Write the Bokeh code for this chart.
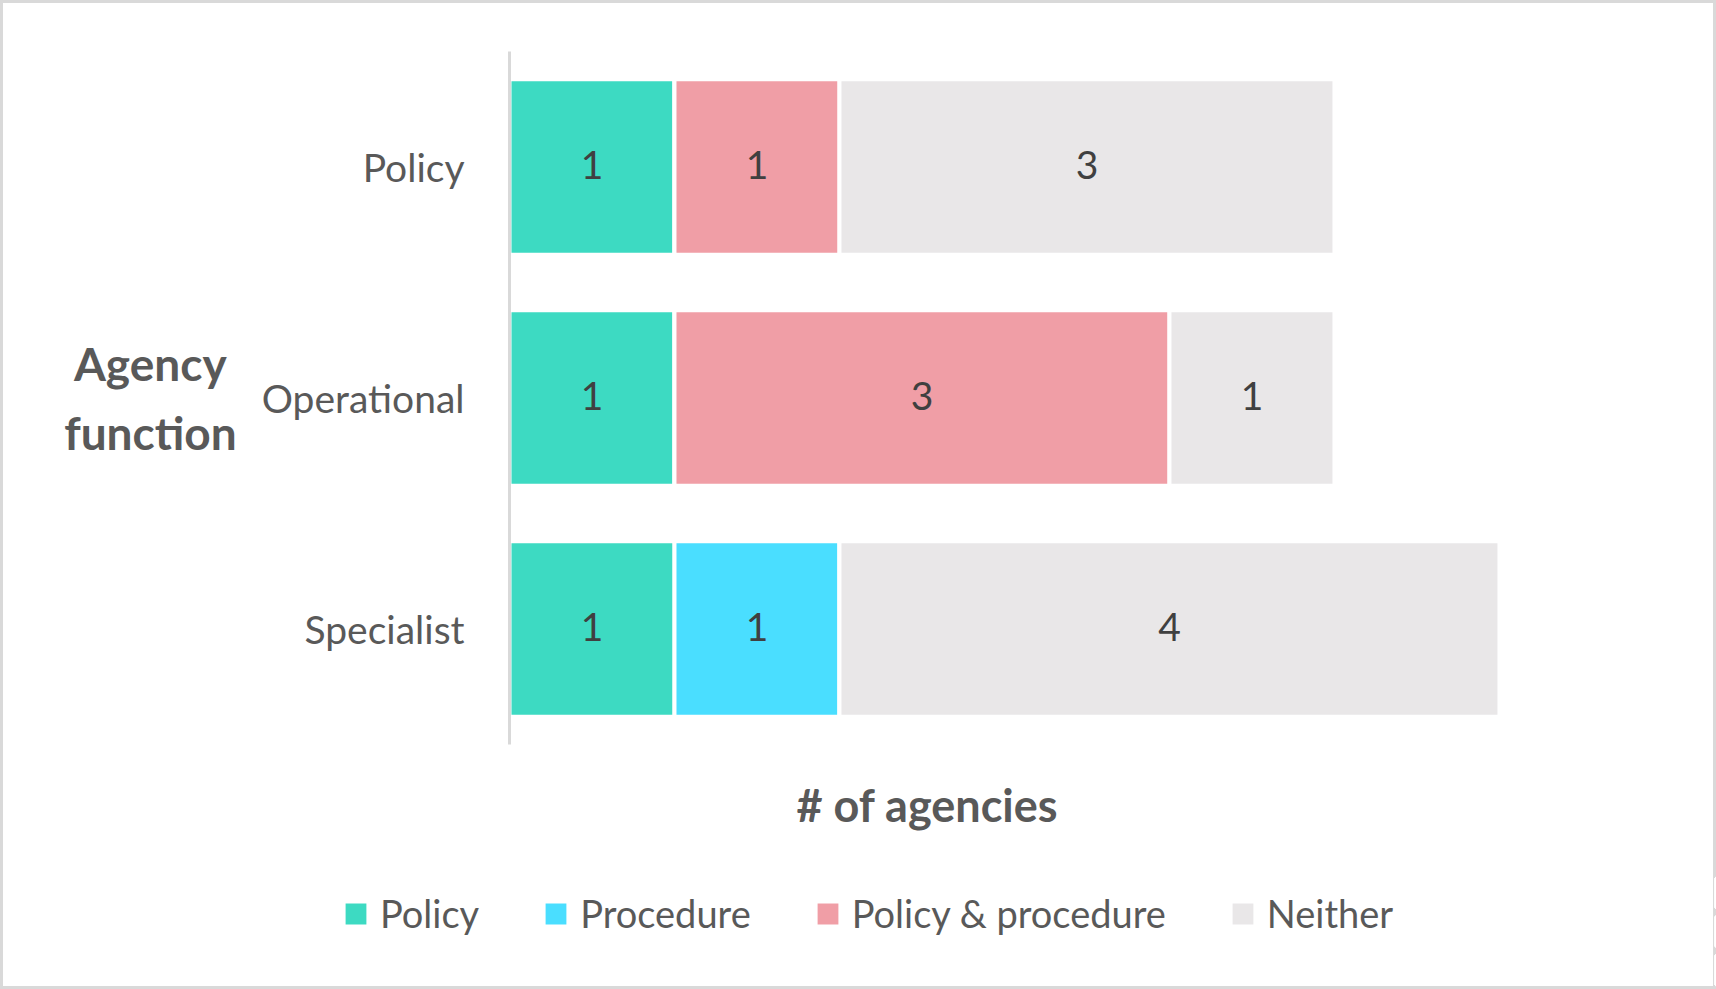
from bokeh.plotting import figure
from bokeh.layouts import column
from bokeh.models import ColumnDataSource, FactorRange, Range1d, Legend, LegendItem, Title
from bokeh.embed import file_html
from bokeh.resources import INLINE
from bokeh.core.properties import value

# ---- data ----
functions = ["Policy", "Operational", "Specialist"]
series = ["Policy", "Procedure", "Policy & procedure", "Neither"]
policy = [1, 1, 1]
procedure = [0, 0, 1]
both = [1, 3, 0]
neither = [3, 1, 4]
colors = ["#3ddac2", "#4adeff", "#f09ea6", "#e9e7e8"]
x_title = "# of agencies"
y_title = "Agency\u00a0\nfunction"

FONT = "Lato"
TXT = "#595959"
W, H_MAIN, H_LEG = 1716, 873, 116

src = ColumnDataSource(dict(function=functions, **{
    series[0]: policy, series[1]: procedure, series[2]: both, series[3]: neither}))

p = figure(width=W, height=H_MAIN,
           y_range=FactorRange(factors=functions[::-1]),
           x_range=Range1d(0, 7.158),
           x_axis_location=None,
           output_backend="svg", toolbar_location=None,
           min_border_left=509, min_border_right=26,
           min_border_top=51, min_border_bottom=H_MAIN - 744)
p.frame_align = False
p.background_fill_alpha = 0
p.border_fill_alpha = 0

renderers = p.hbar_stack(series, y="function", height=0.76, color=colors,
                         line_color="white", line_width=4, source=src)

# value labels (segment centres derived from the data)
lx, ly, lt = [], [], []
cols = [policy, procedure, both, neither]
for i, f in enumerate(functions):
    left = 0
    for vals in cols:
        v = vals[i]
        if v:
            lx.append(left + v / 2)
            ly.append(f)
            lt.append(str(v))
        left += v
p.text(x="x", y="y", text="t", source=ColumnDataSource(dict(x=lx, y=ly, t=lt)),
       text_align="center", text_baseline="middle", y_offset=-2,
       text_font=value(FONT), text_font_size="39px", text_color="#404040")

p.grid.visible = False
p.outline_line_color = None
ax = p.yaxis[0]
ax.axis_line_color = "#d9d9d9"
ax.axis_line_width = 3
ax.major_tick_line_color = None
ax.minor_tick_line_color = None
ax.major_label_text_font = FONT
ax.major_label_text_font_size = "39px"
ax.major_label_text_color = TXT
ax.major_label_standoff = 39
ax.axis_label = y_title
ax.axis_label_orientation = "horizontal"
ax.axis_label_text_font = FONT
ax.axis_label_text_font_size = "46px"
ax.axis_label_text_font_style = "bold"
ax.axis_label_text_color = TXT
ax.axis_label_text_align = "center"
ax.axis_label_text_line_height = 1.24
ax.axis_label_standoff = 22

# x title
p.add_layout(Title(text=x_title, align="left", offset=287, standoff=62,
                   text_font=FONT, text_font_size="45px", text_font_style="bold",
                   text_color=TXT), "below")

# legend strip (its own frame so the legend can sit left of the main axis)
p2 = figure(width=W, height=H_LEG,
            y_range=FactorRange(factors=functions[::-1]), x_range=Range1d(-2, -1),
            x_axis_location=None, y_axis_location=None,
            output_backend="svg", toolbar_location=None,
            min_border_left=0, min_border_right=0, min_border_top=0, min_border_bottom=0)
p2.frame_align = False
p2.grid.visible = False
p2.outline_line_color = None
p2.background_fill_alpha = 0
p2.border_fill_alpha = 0
swatches = p2.hbar_stack(series, y="function", height=0.76, color=colors,
                         line_color="white", line_width=4, source=src)
leg = Legend(items=[LegendItem(label=s, renderers=[r]) for s, r in zip(series, swatches)],
             location=(340, 53), orientation="horizontal",
             padding=0, margin=0, spacing=61, border_line_color=None,
             background_fill_alpha=0, glyph_width=31, glyph_height=31,
             label_standoff=9, label_text_font=FONT, label_text_font_size="38px",
             label_text_color=TXT)
p2.add_layout(leg, "center")

layout = column(p, p2, spacing=0, width=W, height=H_MAIN + H_LEG,
                styles={"outline": "3px solid #d9d9d9", "outline-offset": "-3px",
                        "width": f"{W}px", "height": f"{H_MAIN + H_LEG}px",
                        "background-color": "white"})

open("out.html", "w").write(file_html(layout, INLINE))
